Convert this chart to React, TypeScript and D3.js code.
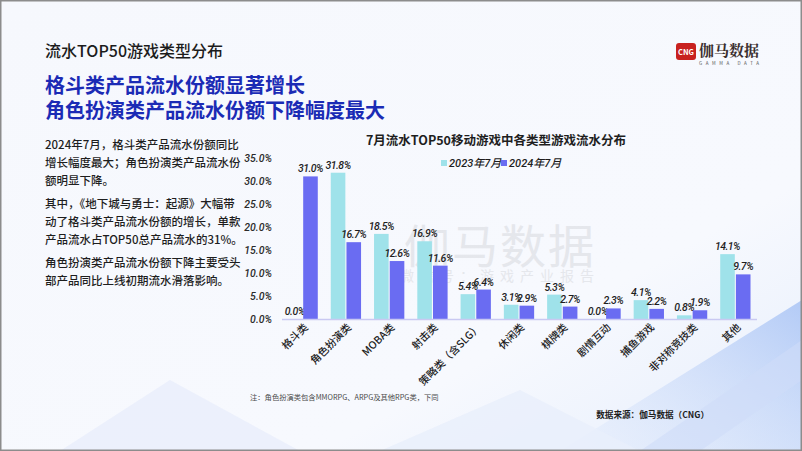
import { useEffect, useRef } from 'react';
import * as d3 from 'd3';

const W = 802;
const H = 451;

const categories = [
  '格斗类',
  '角色扮演类',
  'MOBA类',
  '射击类',
  '策略类（含SLG）',
  '休闲类',
  '棋牌类',
  '剧情互动',
  '捕鱼游戏',
  '非对称竞技类',
  '其他',
];
const series2023 = [0.0, 31.8, 18.5, 16.9, 5.4, 3.1, 5.3, 0.0, 4.1, 0.8, 14.1];
const series2024 = [31.0, 16.7, 12.6, 11.6, 6.4, 2.9, 2.7, 2.3, 2.2, 1.9, 9.7];
const seriesNames = ['2023年7月', '2024年7月'];
const seriesColors = ['#9fe2ea', '#6a6cf2'];
const yTicks = [0, 5, 10, 15, 20, 25, 30, 35];

const bodyParas = [
  ['2024年7月，格斗类产品流水份额同比', '增长幅度最大；角色扮演类产品流水份', '额明显下降。'],
  ['其中，《地下城与勇士：起源》大幅带', '动了格斗类产品流水份额的增长，单款', '产品流水占TOP50总产品流水的31%。'],
  ['角色扮演类产品流水份额下降主要受头', '部产品同比上线初期流水滑落影响。'],
];

const FONT = '"Noto Sans CJK SC", "Noto Sans", sans-serif';
const NUM_FONT = 'Roboto, "Noto Sans CJK SC", sans-serif';

export default function App() {
  const ref = useRef<SVGSVGElement>(null);

  useEffect(() => {
    if (!ref.current) return;
    const svg = d3.select(ref.current);
    svg.selectAll('*').remove();

    // background
    const defs = svg.append('defs');
    const bg = defs.append('linearGradient').attr('id', 'bg').attr('x1', 0).attr('y1', 0).attr('x2', 1).attr('y2', 1);
    bg.append('stop').attr('offset', '0%').attr('stop-color', '#f6f8fd');
    bg.append('stop').attr('offset', '70%').attr('stop-color', '#f7f9fe');
    bg.append('stop').attr('offset', '100%').attr('stop-color', '#e6eefc');
    const blu = defs.append('linearGradient').attr('id', 'blu').attr('x1', 0).attr('y1', 1).attr('x2', 1).attr('y2', 0);
    blu.append('stop').attr('offset', '0%').attr('stop-color', '#dbe6fb').attr('stop-opacity', 0.3);
    blu.append('stop').attr('offset', '100%').attr('stop-color', '#8fb2f2').attr('stop-opacity', 0.9);

    svg.append('rect').attr('width', W).attr('height', H).attr('fill', 'url(#bg)');
    svg.append('path').attr('d', `M560,${H} L802,300 L802,${H} Z`).attr('fill', 'url(#blu)').attr('opacity', 0.7);
    svg.append('path').attr('d', `M640,${H} L802,340 L802,380 L700,${H} Z`).attr('fill', '#cfdcf8').attr('opacity', 0.6);
    svg.append('path').attr('d', `M60,${H} L170,380 L300,${H} Z`).attr('fill', '#e8eefb').attr('opacity', 0.8);
    svg.append('path').attr('d', `M380,${H} L520,390 L640,${H} Z`).attr('fill', '#e9effb').attr('opacity', 0.8);

    // header
    svg.append('text').attr('x', 45).attr('y', 57).attr('font-size', 16).attr('font-weight', 500)
      .attr('fill', '#1c1c1c').attr('font-family', FONT).text('流水TOP50游戏类型分布');
    svg.append('text').attr('x', 45).attr('y', 93).attr('font-size', 20).attr('font-weight', 700)
      .attr('fill', '#1b2bb5').attr('font-family', FONT).text('格斗类产品流水份额显著增长');
    svg.append('text').attr('x', 45).attr('y', 118).attr('font-size', 20).attr('font-weight', 700)
      .attr('fill', '#1b2bb5').attr('font-family', FONT).text('角色扮演类产品流水份额下降幅度最大');

    // logo
    const logo = svg.append('g').attr('transform', 'translate(676,43)');
    logo.append('rect').attr('width', 20).attr('height', 17).attr('rx', 3).attr('fill', '#c8211f');
    logo.append('text').attr('x', 10).attr('y', 12).attr('text-anchor', 'middle').attr('font-size', 7.5)
      .attr('font-weight', 700).attr('fill', '#fff').attr('font-family', FONT).text('CNG');
    logo.append('text').attr('x', 23).attr('y', 13).attr('font-size', 15).attr('font-weight', 700)
      .attr('fill', '#3a2e2e').attr('font-family', '"Noto Serif CJK SC", "Noto Sans CJK SC", serif').text('伽马数据');
    logo.append('text').attr('x', 23).attr('y', 22).attr('font-size', 4.5).attr('letter-spacing', 3.6)
      .attr('fill', '#555').attr('font-family', FONT).text('GAMMA DATA');

    // body text
    let by = 149;
    bodyParas.forEach((p) => {
      p.forEach((line) => {
        svg.append('text').attr('x', 45).attr('y', by).attr('font-size', 11.5).attr('font-weight', 500)
          .attr('fill', '#1e1e1e').attr('font-family', FONT).text(line);
        by += 18;
      });
      by += 5;
    });

    // watermark
    svg.append('text').attr('x', 500).attr('y', 263).attr('text-anchor', 'middle').attr('font-size', 46)
      .attr('letter-spacing', 2).attr('fill', '#dfe1e6').attr('opacity', 0.75).attr('font-family', FONT).text('伽马数据');
    svg.append('text').attr('x', 500).attr('y', 281).attr('text-anchor', 'middle').attr('font-size', 14)
      .attr('letter-spacing', 6).attr('fill', '#dfe1e6').attr('opacity', 0.75).attr('font-family', FONT).text('微信号：游戏产业报告');

    // chart
    const x0 = d3.scaleBand<string>().domain(categories).range([281, 757]).paddingInner(0.3).paddingOuter(0.15);
    const x1 = d3.scaleBand<number>().domain([0, 1]).range([0, x0.bandwidth()]).paddingInner(0.07);
    const y = d3.scaleLinear().domain([0, 35]).range([319, 158]);

    svg.append('text').attr('x', 496).attr('y', 145).attr('text-anchor', 'middle').attr('font-size', 12.5)
      .attr('font-weight', 700).attr('fill', '#1e1e1e').attr('font-family', FONT).text('7月流水TOP50移动游戏中各类型游戏流水分布');

    // legend
    const leg = svg.append('g').attr('transform', 'translate(441,163)');
    seriesNames.forEach((n, i) => {
      const g = leg.append('g').attr('transform', `translate(${i * 60},0)`);
      g.append('rect').attr('x', 0).attr('y', -3).attr('width', 6).attr('height', 6).attr('fill', seriesColors[i]);
      g.append('text').attr('x', 8).attr('y', 4).attr('font-size', 11).attr('font-style', 'italic')
        .attr('font-weight', 500).attr('fill', '#1e1e1e').attr('font-family', NUM_FONT).text(n);
    });

    // y axis labels
    svg.append('g').selectAll('text').data(yTicks).join('text')
      .attr('x', 272).attr('y', (d) => y(d) + 4).attr('text-anchor', 'end').attr('font-size', 10.5)
      .attr('font-style', 'italic').attr('font-weight', 500).attr('fill', '#2a2a2a').attr('font-family', NUM_FONT)
      .text((d) => d3.format('.1f')(d) + '%');

    // bars
    const allSeries = [series2023, series2024];
    allSeries.forEach((vals, si) => {
      const g = svg.append('g');
      g.selectAll('rect').data(vals).join('rect')
        .attr('x', (_, i) => (x0(categories[i]) ?? 0) + (x1(si) ?? 0))
        .attr('y', (d) => y(d))
        .attr('width', x1.bandwidth())
        .attr('height', (d) => y(0) - y(d))
        .attr('fill', seriesColors[si]);
      g.selectAll('text').data(vals).join('text')
        .attr('x', (_, i) => (x0(categories[i]) ?? 0) + (x1(si) ?? 0) + x1.bandwidth() / 2)
        .attr('y', (d) => y(d) - 4)
        .attr('text-anchor', 'middle').attr('font-size', 10.5).attr('font-style', 'italic')
        .attr('font-weight', 500).attr('letter-spacing', -0.5)
        .attr('fill', '#1e1e1e').attr('font-family', NUM_FONT)
        .text((d) => d3.format('.1f')(d) + '%');
    });

    // axis line
    svg.append('line').attr('x1', 282).attr('x2', 757).attr('y1', 319.5).attr('y2', 319.5)
      .attr('stroke', '#c9c9f2').attr('stroke-width', 1.5);

    // x labels
    svg.append('g').selectAll('text').data(categories).join('text')
      .attr('transform', (d) => `translate(${(x0(d) ?? 0) + x0.bandwidth() / 2 + 6},${328}) rotate(-45)`)
      .attr('text-anchor', 'end').attr('font-size', 10.5).attr('font-weight', 500)
      .attr('fill', '#1e1e1e').attr('font-family', FONT).text((d) => d);

    // notes
    svg.append('text').attr('x', 250).attr('y', 400).attr('font-size', 7.3).attr('fill', '#4a4a4a')
      .attr('font-family', FONT).text('注：角色扮演类包含MMORPG、ARPG及其他RPG类，下同');
    svg.append('text').attr('x', 709).attr('y', 418).attr('text-anchor', 'end').attr('font-size', 8.6)
      .attr('font-weight', 700).attr('fill', '#1e1e1e').attr('font-family', FONT).text('数据来源：伽马数据（CNG）');

    // frame
    svg.append('rect').attr('x', 0.75).attr('y', 0.75).attr('width', W - 1.5).attr('height', H - 1.5)
      .attr('fill', 'none').attr('stroke', '#8c8c8c').attr('stroke-width', 1.5);
  }, []);

  return (
    <div style={{ position: 'fixed', left: 0, top: 0 }}>
      <svg ref={ref} width={W} height={H} style={{ display: 'block' }} />
    </div>
  );
}
